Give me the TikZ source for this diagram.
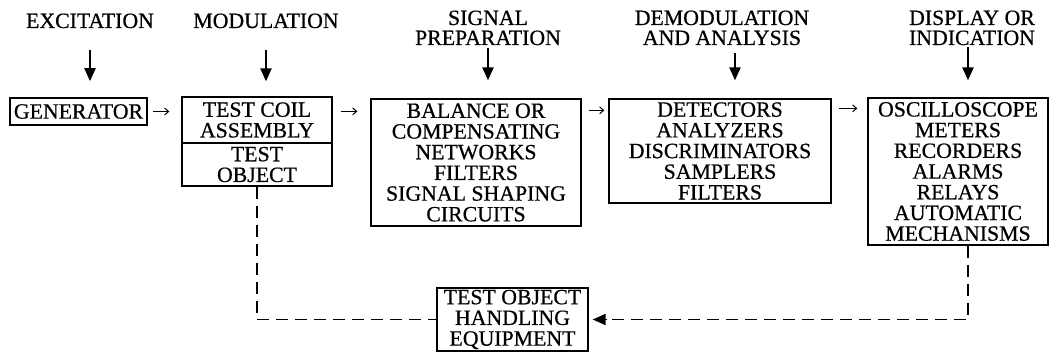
\documentclass[tikz,border=0pt]{standalone}
\usepackage{fontspec}
\setmainfont{Liberation Serif}[FakeBold=0.6]
\usetikzlibrary{arrows.meta}
\tikzset{
  txt/.style={font=\fontsize{21.8}{20.7}\selectfont, inner sep=0pt, align=center},
  hdr/.style={txt, anchor=base},
  blk/.style={txt, draw, line width=1.3pt, inner sep=1pt},
  varrow/.style={line width=2.3pt, -{Triangle[width=11pt,length=13pt]}},
  harrow/.style={line width=1pt, -{Straight Barb[length=4pt,width=7pt]}},
  dline/.style={line width=1.9pt, dash pattern=on 12pt off 7pt},
}
\begin{document}
\begin{tikzpicture}[x=1pt,y=-1pt]
\useasboundingbox (0,0) rectangle (1050,352);
% headers
\node[hdr] (h1) at (90,28) {EXCITATION};
\node[hdr] (h2) at (266,28) {MODULATION};
\node[hdr] (h3a) at (488,25) {SIGNAL};
\node[hdr] (h3) at (488,45) {PREPARATION};
\node[hdr] (h4a) at (722,25) {DEMODULATION};
\node[hdr] (h4) at (722,45) {AND ANALYSIS};
\node[hdr] (h5a) at (972,25) {DISPLAY OR};
\node[hdr] (h5) at (972,45) {INDICATION};
% boxes
\node[blk, line width=1.6pt, minimum width=137pt, minimum height=27pt] (gen) at (78.5,111.5) {GENERATOR};
\node[blk, minimum width=150pt, minimum height=46pt] (coil) at (257,120) {TEST COIL\\ASSEMBLY};
\node[blk, minimum width=150pt, minimum height=43pt] (obj) at (257,164.5) {TEST\\OBJECT};
\node[blk, minimum width=210pt, minimum height=127pt] (sig) at (476,162.5) {BALANCE OR\\COMPENSATING\\NETWORKS\\FILTERS\\SIGNAL SHAPING\\CIRCUITS};
\node[blk, minimum width=222pt, minimum height=104pt] (dem) at (720,151) {DETECTORS\\ANALYZERS\\DISCRIMINATORS\\SAMPLERS\\FILTERS};
\node[blk, minimum width=180pt, minimum height=147pt] (disp) at (958,171.5) {OSCILLOSCOPE\\METERS\\RECORDERS\\ALARMS\\RELAYS\\AUTOMATIC\\MECHANISMS};
\node[blk, minimum width=151pt, minimum height=63pt] (hand) at (512.5,319.5) {TEST OBJECT\\HANDLING\\EQUIPMENT};
% vertical arrows
\draw[varrow] ([yshift=-22pt]h1.base) -- ([yshift=16pt]h1.base |- gen.north);
\draw[varrow] ([yshift=-22pt]h2.base) -- ([yshift=15pt]h2.base |- coil.north);
\draw[varrow] ([yshift=-3pt]h3.base) -- ([yshift=18pt]h3.base |- sig.north);
\draw[varrow] ([yshift=-8pt,xshift=13pt]h4.base) -- ([yshift=18pt,xshift=13pt]h4.base |- dem.north);
\draw[varrow] ([yshift=-2pt,xshift=-4pt]h5.base) -- ([yshift=17pt,xshift=-4pt]h5.base |- disp.north);
% horizontal arrows
\draw[harrow, shorten <=5pt, shorten >=12pt] (gen.east) -- (gen.east -| coil.west);
\draw[harrow, shorten <=8pt, shorten >=13pt] ([yshift=-15pt]coil.north east) -- ([yshift=-15pt]coil.north east -| sig.west);
\draw[harrow, shorten <=7pt, shorten >=4pt] ([yshift=-12pt]sig.north east) -- ([yshift=-12pt]sig.north east -| dem.west);
\draw[harrow, shorten <=7pt, shorten >=10pt] ([yshift=-10pt]dem.north east) -- ([yshift=-10pt]dem.north east -| disp.west);
% feedback dashed lines
\draw[dline] (obj.south) |- (hand.west);
\draw[dline, shorten >=4pt] ([xshift=10pt]disp.south) |- (hand.east);
\draw[line width=1.9pt, -{Triangle[width=11pt,length=13pt]}] ([xshift=18pt]hand.east) -- ([xshift=4pt]hand.east);
\end{tikzpicture}
\end{document}
